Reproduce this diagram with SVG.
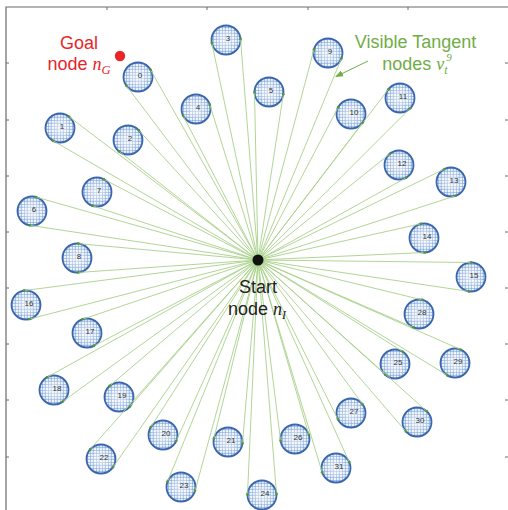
<svg xmlns="http://www.w3.org/2000/svg" width="508" height="510" viewBox="0 0 508 510">
<style>
.frame{stroke:#6b6b6b;stroke-width:1.2;fill:none}
.tick{stroke:#6b6b6b;stroke-width:1}
.obs{fill:url(#grid);stroke:#3a66ad;stroke-width:1.8}
.glow{fill:url(#shine);stroke:none}
.lbl{font-family:"Liberation Sans",Arial,sans-serif;font-size:8px;fill:#333;text-anchor:middle;dominant-baseline:central}
.ray{stroke:#a8d08a;stroke-width:0.9}
.tp{fill:#4e9a2a}
.big{font-family:"Liberation Sans",Arial,sans-serif;font-size:18px;text-anchor:middle}
.it{font-family:"Liberation Serif","Times New Roman",serif;font-style:italic}
</style>
<defs>
<pattern id="grid" patternUnits="userSpaceOnUse" width="6" height="6">
<rect width="6" height="6" fill="#eef3fb"/>
<path d="M0 0.3H6M0 3.3H6M0.3 0V6M3.3 0V6" stroke="#6f98d3" stroke-width="0.7"/>
</pattern>
<radialGradient id="shine" cx="0.5" cy="0.5" r="0.5">
<stop offset="0" stop-color="#fff" stop-opacity="0.6"/>
<stop offset="0.6" stop-color="#fff" stop-opacity="0.3"/>
<stop offset="1" stop-color="#fff" stop-opacity="0"/>
</radialGradient>
<marker id="ah" markerWidth="8" markerHeight="8" refX="7" refY="4" orient="auto" markerUnits="userSpaceOnUse">
<path d="M0 0.8L8 4L0 7.2Z" fill="#70ad47"/>
</marker>
</defs>

<g id="axes">
<path class="frame" d="M6 510V7H508"/>
<path class="tick" d="M6 63h3M6 120h3M6 176h3M6 232h3M6 288h3M6 344h3M6 400h3M6 457h3"/>
<path class="tick" d="M505 63h3M505 120h3M505 176h3M505 232h3M505 288h3M505 344h3M505 400h3M505 457h3"/>
<path class="tick" d="M107 7v3M207 7v3M308 7v3M408 7v3"/>
</g>

<g id="node-0"><circle class="obs" cx="138" cy="77" r="14.5"/><circle class="glow" cx="138" cy="77" r="13"/><text class="lbl" x="140" y="75">0</text></g>
<g id="node-1"><circle class="obs" cx="60" cy="128" r="14.5"/><circle class="glow" cx="60" cy="128" r="13"/><text class="lbl" x="62" y="126">1</text></g>
<g id="node-2"><circle class="obs" cx="128" cy="140" r="14.5"/><circle class="glow" cx="128" cy="140" r="13"/><text class="lbl" x="130" y="138">2</text></g>
<g id="node-3"><circle class="obs" cx="226" cy="40" r="14.5"/><circle class="glow" cx="226" cy="40" r="13"/><text class="lbl" x="228" y="38">3</text></g>
<g id="node-4"><circle class="obs" cx="196" cy="109" r="14.5"/><circle class="glow" cx="196" cy="109" r="13"/><text class="lbl" x="198" y="107">4</text></g>
<g id="node-5"><circle class="obs" cx="269" cy="92" r="14.5"/><circle class="glow" cx="269" cy="92" r="13"/><text class="lbl" x="271" y="90">5</text></g>
<g id="node-6"><circle class="obs" cx="32" cy="211" r="14.5"/><circle class="glow" cx="32" cy="211" r="13"/><text class="lbl" x="34" y="209">6</text></g>
<g id="node-7"><circle class="obs" cx="97" cy="192" r="14.5"/><circle class="glow" cx="97" cy="192" r="13"/><text class="lbl" x="99" y="190">7</text></g>
<g id="node-8"><circle class="obs" cx="77" cy="258" r="14.5"/><circle class="glow" cx="77" cy="258" r="13"/><text class="lbl" x="79" y="256">8</text></g>
<g id="node-9"><circle class="obs" cx="328" cy="53" r="14.5"/><circle class="glow" cx="328" cy="53" r="13"/><text class="lbl" x="330" y="51">9</text></g>
<g id="node-10"><circle class="obs" cx="351" cy="114" r="14.5"/><circle class="glow" cx="351" cy="114" r="13"/><text class="lbl" x="354" y="112">10</text></g>
<g id="node-11"><circle class="obs" cx="400" cy="98" r="14.5"/><circle class="glow" cx="400" cy="98" r="13"/><text class="lbl" x="403" y="96">11</text></g>
<g id="node-12"><circle class="obs" cx="399" cy="165" r="14.5"/><circle class="glow" cx="399" cy="165" r="13"/><text class="lbl" x="402" y="163">12</text></g>
<g id="node-13"><circle class="obs" cx="451" cy="182" r="14.5"/><circle class="glow" cx="451" cy="182" r="13"/><text class="lbl" x="454" y="180">13</text></g>
<g id="node-14"><circle class="obs" cx="424" cy="238" r="14.5"/><circle class="glow" cx="424" cy="238" r="13"/><text class="lbl" x="427" y="236">14</text></g>
<g id="node-15"><circle class="obs" cx="471" cy="277" r="14.5"/><circle class="glow" cx="471" cy="277" r="13"/><text class="lbl" x="474" y="275">15</text></g>
<g id="node-16"><circle class="obs" cx="26" cy="305" r="14.5"/><circle class="glow" cx="26" cy="305" r="13"/><text class="lbl" x="29" y="303">16</text></g>
<g id="node-17"><circle class="obs" cx="87" cy="333" r="14.5"/><circle class="glow" cx="87" cy="333" r="13"/><text class="lbl" x="90" y="331">17</text></g>
<g id="node-18"><circle class="obs" cx="54" cy="390" r="14.5"/><circle class="glow" cx="54" cy="390" r="13"/><text class="lbl" x="57" y="388">18</text></g>
<g id="node-19"><circle class="obs" cx="119" cy="397" r="14.5"/><circle class="glow" cx="119" cy="397" r="13"/><text class="lbl" x="122" y="395">19</text></g>
<g id="node-20"><circle class="obs" cx="163" cy="435" r="14.5"/><circle class="glow" cx="163" cy="435" r="13"/><text class="lbl" x="166" y="433">20</text></g>
<g id="node-21"><circle class="obs" cx="228" cy="442" r="14.5"/><circle class="glow" cx="228" cy="442" r="13"/><text class="lbl" x="231" y="440">21</text></g>
<g id="node-22"><circle class="obs" cx="101" cy="459" r="14.5"/><circle class="glow" cx="101" cy="459" r="13"/><text class="lbl" x="104" y="457">22</text></g>
<g id="node-23"><circle class="obs" cx="181" cy="487" r="14.5"/><circle class="glow" cx="181" cy="487" r="13"/><text class="lbl" x="184" y="485">23</text></g>
<g id="node-24"><circle class="obs" cx="262" cy="495" r="14.5"/><circle class="glow" cx="262" cy="495" r="13"/><text class="lbl" x="265" y="493">24</text></g>
<g id="node-25"><circle class="obs" cx="395" cy="364" r="14.5"/><circle class="glow" cx="395" cy="364" r="13"/><text class="lbl" x="398" y="362">25</text></g>
<g id="node-26"><circle class="obs" cx="295" cy="439" r="14.5"/><circle class="glow" cx="295" cy="439" r="13"/><text class="lbl" x="298" y="437">26</text></g>
<g id="node-27"><circle class="obs" cx="351" cy="413" r="14.5"/><circle class="glow" cx="351" cy="413" r="13"/><text class="lbl" x="354" y="411">27</text></g>
<g id="node-28"><circle class="obs" cx="419" cy="314" r="14.5"/><circle class="glow" cx="419" cy="314" r="13"/><text class="lbl" x="422" y="312">28</text></g>
<g id="node-29"><circle class="obs" cx="455" cy="363" r="14.5"/><circle class="glow" cx="455" cy="363" r="13"/><text class="lbl" x="458" y="361">29</text></g>
<g id="node-30"><circle class="obs" cx="417" cy="422" r="14.5"/><circle class="glow" cx="417" cy="422" r="13"/><text class="lbl" x="420" y="420">30</text></g>
<g id="node-31"><circle class="obs" cx="336" cy="468" r="14.5"/><circle class="glow" cx="336" cy="468" r="13"/><text class="lbl" x="339" y="466">31</text></g>

<g id="connectors">
<g class="ray">
<line x1="258" y1="260" x2="126.4" y2="85.7"/><line x1="258" y1="260" x2="150.6" y2="69.9"/>
<line x1="258" y1="260" x2="52.7" y2="140.5"/><line x1="258" y1="260" x2="68.8" y2="116.5"/>
<line x1="258" y1="260" x2="119.1" y2="151.4"/><line x1="258" y1="260" x2="138.7" y2="130.2"/>
<line x1="258" y1="260" x2="211.8" y2="43.0"/><line x1="258" y1="260" x2="240.5" y2="38.9"/>
<line x1="258" y1="260" x2="183.1" y2="115.7"/><line x1="258" y1="260" x2="209.8" y2="104.7"/>
<line x1="258" y1="260" x2="254.5" y2="92.3"/><line x1="258" y1="260" x2="283.3" y2="94.2"/>
<line x1="258" y1="260" x2="29.8" y2="225.3"/><line x1="258" y1="260" x2="36.0" y2="197.1"/>
<line x1="258" y1="260" x2="92.5" y2="205.8"/><line x1="258" y1="260" x2="103.7" y2="179.2"/>
<line x1="258" y1="260" x2="78.0" y2="272.5"/><line x1="258" y1="260" x2="78.3" y2="243.6"/>
<line x1="258" y1="260" x2="314.0" y2="49.3"/><line x1="258" y1="260" x2="341.4" y2="58.5"/>
<line x1="258" y1="260" x2="338.2" y2="107.3"/><line x1="258" y1="260" x2="362.5" y2="122.8"/>
<line x1="258" y1="260" x2="388.5" y2="89.2"/><line x1="258" y1="260" x2="410.2" y2="108.3"/>
<line x1="258" y1="260" x2="389.9" y2="153.7"/><line x1="258" y1="260" x2="406.1" y2="177.7"/>
<line x1="258" y1="260" x2="444.6" y2="169.0"/><line x1="258" y1="260" x2="455.5" y2="195.8"/>
<line x1="258" y1="260" x2="420.9" y2="223.8"/><line x1="258" y1="260" x2="424.6" y2="252.5"/>
<line x1="258" y1="260" x2="471.2" y2="262.5"/><line x1="258" y1="260" x2="468.9" y2="291.4"/>
<line x1="258" y1="260" x2="29.6" y2="319.0"/><line x1="258" y1="260" x2="24.1" y2="290.6"/>
<line x1="258" y1="260" x2="93.7" y2="345.9"/><line x1="258" y1="260" x2="82.4" y2="319.3"/>
<line x1="258" y1="260" x2="62.5" y2="401.7"/><line x1="258" y1="260" x2="47.0" y2="377.3"/>
<line x1="258" y1="260" x2="129.9" y2="406.5"/><line x1="258" y1="260" x2="109.6" y2="385.9"/>
<line x1="258" y1="260" x2="176.2" y2="441.0"/><line x1="258" y1="260" x2="150.8" y2="427.2"/>
<line x1="258" y1="260" x2="242.5" y2="443.2"/><line x1="258" y1="260" x2="213.9" y2="438.5"/>
<line x1="258" y1="260" x2="112.9" y2="467.3"/><line x1="258" y1="260" x2="90.1" y2="449.4"/>
<line x1="258" y1="260" x2="195.0" y2="490.8"/><line x1="258" y1="260" x2="167.6" y2="481.5"/>
<line x1="258" y1="260" x2="276.5" y2="493.9"/><line x1="258" y1="260" x2="247.5" y2="494.4"/>
<line x1="258" y1="260" x2="402.8" y2="351.7"/><line x1="258" y1="260" x2="385.3" y2="374.8"/>
<line x1="258" y1="260" x2="308.9" y2="435.0"/><line x1="258" y1="260" x2="280.6" y2="440.8"/>
<line x1="258" y1="260" x2="362.7" y2="404.5"/><line x1="258" y1="260" x2="338.0" y2="419.5"/>
<line x1="258" y1="260" x2="422.4" y2="299.9"/><line x1="258" y1="260" x2="413.2" y2="327.3"/>
<line x1="258" y1="260" x2="460.9" y2="349.7"/><line x1="258" y1="260" x2="447.5" y2="375.4"/>
<line x1="258" y1="260" x2="426.7" y2="411.2"/><line x1="258" y1="260" x2="406.0" y2="431.5"/>
<line x1="258" y1="260" x2="349.2" y2="462.0"/><line x1="258" y1="260" x2="322.1" y2="472.2"/>
</g>
<g class="tp">
<circle cx="126.4" cy="85.7" r="1.3"/><circle cx="150.6" cy="69.9" r="1.3"/>
<circle cx="52.7" cy="140.5" r="1.3"/><circle cx="68.8" cy="116.5" r="1.3"/>
<circle cx="119.1" cy="151.4" r="1.3"/><circle cx="138.7" cy="130.2" r="1.3"/>
<circle cx="211.8" cy="43.0" r="1.3"/><circle cx="240.5" cy="38.9" r="1.3"/>
<circle cx="183.1" cy="115.7" r="1.3"/><circle cx="209.8" cy="104.7" r="1.3"/>
<circle cx="254.5" cy="92.3" r="1.3"/><circle cx="283.3" cy="94.2" r="1.3"/>
<circle cx="29.8" cy="225.3" r="1.3"/><circle cx="36.0" cy="197.1" r="1.3"/>
<circle cx="92.5" cy="205.8" r="1.3"/><circle cx="103.7" cy="179.2" r="1.3"/>
<circle cx="78.0" cy="272.5" r="1.3"/><circle cx="78.3" cy="243.6" r="1.3"/>
<circle cx="314.0" cy="49.3" r="1.3"/><circle cx="341.4" cy="58.5" r="1.3"/>
<circle cx="338.2" cy="107.3" r="1.3"/><circle cx="362.5" cy="122.8" r="1.3"/>
<circle cx="388.5" cy="89.2" r="1.3"/><circle cx="410.2" cy="108.3" r="1.3"/>
<circle cx="389.9" cy="153.7" r="1.3"/><circle cx="406.1" cy="177.7" r="1.3"/>
<circle cx="444.6" cy="169.0" r="1.3"/><circle cx="455.5" cy="195.8" r="1.3"/>
<circle cx="420.9" cy="223.8" r="1.3"/><circle cx="424.6" cy="252.5" r="1.3"/>
<circle cx="471.2" cy="262.5" r="1.3"/><circle cx="468.9" cy="291.4" r="1.3"/>
<circle cx="29.6" cy="319.0" r="1.3"/><circle cx="24.1" cy="290.6" r="1.3"/>
<circle cx="93.7" cy="345.9" r="1.3"/><circle cx="82.4" cy="319.3" r="1.3"/>
<circle cx="62.5" cy="401.7" r="1.3"/><circle cx="47.0" cy="377.3" r="1.3"/>
<circle cx="129.9" cy="406.5" r="1.3"/><circle cx="109.6" cy="385.9" r="1.3"/>
<circle cx="176.2" cy="441.0" r="1.3"/><circle cx="150.8" cy="427.2" r="1.3"/>
<circle cx="242.5" cy="443.2" r="1.3"/><circle cx="213.9" cy="438.5" r="1.3"/>
<circle cx="112.9" cy="467.3" r="1.3"/><circle cx="90.1" cy="449.4" r="1.3"/>
<circle cx="195.0" cy="490.8" r="1.3"/><circle cx="167.6" cy="481.5" r="1.3"/>
<circle cx="276.5" cy="493.9" r="1.3"/><circle cx="247.5" cy="494.4" r="1.3"/>
<circle cx="402.8" cy="351.7" r="1.3"/><circle cx="385.3" cy="374.8" r="1.3"/>
<circle cx="308.9" cy="435.0" r="1.3"/><circle cx="280.6" cy="440.8" r="1.3"/>
<circle cx="362.7" cy="404.5" r="1.3"/><circle cx="338.0" cy="419.5" r="1.3"/>
<circle cx="422.4" cy="299.9" r="1.3"/><circle cx="413.2" cy="327.3" r="1.3"/>
<circle cx="460.9" cy="349.7" r="1.3"/><circle cx="447.5" cy="375.4" r="1.3"/>
<circle cx="426.7" cy="411.2" r="1.3"/><circle cx="406.0" cy="431.5" r="1.3"/>
<circle cx="349.2" cy="462.0" r="1.3"/><circle cx="322.1" cy="472.2" r="1.3"/>
</g>
<line x1="368" y1="61" x2="336" y2="76.5" stroke="#70ad47" stroke-width="1" marker-end="url(#ah)"/>
</g>

<g id="start">
<circle cx="258" cy="260" r="5.5" fill="#111"/>
<text class="big" x="258" y="293" fill="#222" font-size="17.5">Start</text>
<text class="big" x="257" y="315" fill="#222" font-size="17.5">node <tspan class="it">n</tspan><tspan class="it" font-size="12" dy="4">I</tspan></text>
</g>

<g id="goal">
<circle cx="120" cy="56" r="5.2" fill="#e8262a"/>
<text class="big" x="79" y="49" fill="#e8262a">Goal</text>
<text class="big" x="79" y="70" fill="#e8262a">node <tspan class="it">n</tspan><tspan class="it" font-size="12.5" dy="4">G</tspan></text>
</g>

<g id="label-visible">
<text class="big" x="415.5" y="48" fill="#70ad47" font-size="17.3">Visible Tangent</text>
<text class="big" x="417" y="70" fill="#70ad47" font-size="17.3">nodes <tspan class="it">v</tspan><tspan class="it" font-size="12" dy="4">t</tspan><tspan class="it" font-size="11" dx="-1.5" dy="-13">9</tspan></text>
</g>
</svg>
